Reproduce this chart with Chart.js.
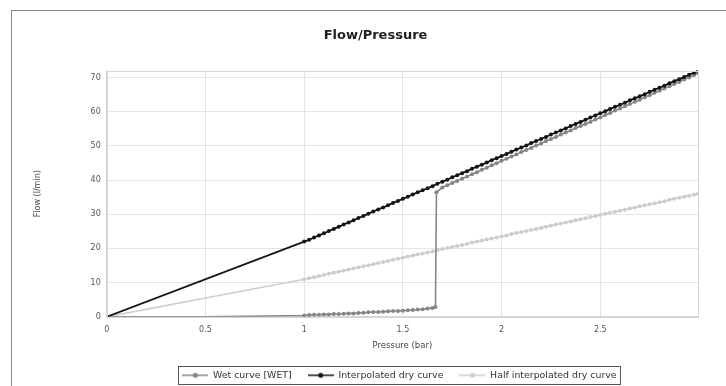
<!DOCTYPE html>
<html>
<head>
<meta charset="utf-8">
<script src="https://cdn.jsdelivr.net/npm/chart.js@4/dist/chart.umd.min.js"></script>
<style>
  html, body { margin: 0; padding: 0; background: #fff; }
  #wrap  { position: relative; width: 726px; height: 386px; overflow: hidden; }
  #frame { position: absolute; left: 11px; top: 10px; width: 800px; height: 500px;
           border: 1px solid #8c8c8c; }
  #c     { position: absolute; left: 0; top: 0; }
</style>
</head>
<body>
<div id="wrap">
  <div id="frame"></div>
  <canvas id="c" width="726" height="390"></canvas>
</div>
<script>
/* ================================================================
   Données
================================================================ */
const SERIES_LABELS = ['Wet curve [WET]', 'Interpolated dry curve', 'Half interpolated dry curve'];

const dryPressure = [0,
  1.000, 1.025, 1.050, 1.075, 1.100, 1.125, 1.150, 1.175, 1.200, 1.225,
  1.250, 1.275, 1.300, 1.325, 1.350, 1.375, 1.400, 1.425, 1.450, 1.475,
  1.500, 1.525, 1.550, 1.575, 1.600, 1.625, 1.650, 1.675, 1.700, 1.725,
  1.750, 1.775, 1.800, 1.825, 1.850, 1.875, 1.900, 1.925, 1.950, 1.975,
  2.000, 2.025, 2.050, 2.075, 2.100, 2.125, 2.150, 2.175, 2.200, 2.225,
  2.250, 2.275, 2.300, 2.325, 2.350, 2.375, 2.400, 2.425, 2.450, 2.475,
  2.500, 2.525, 2.550, 2.575, 2.600, 2.625, 2.650, 2.675, 2.700, 2.725,
  2.750, 2.775, 2.800, 2.825, 2.850, 2.875, 2.900, 2.925, 2.950, 2.975, 2.995];

const dryFlow = [0,
  22.0, 22.5, 23.2, 23.8, 24.4, 25.1, 25.7, 26.3, 27.0, 27.6,
  28.2, 28.9, 29.5, 30.1, 30.8, 31.4, 32.0, 32.6, 33.3, 33.9,
  34.5, 35.1, 35.8, 36.4, 37.0, 37.6, 38.2, 38.9, 39.5, 40.1,
  40.8, 41.4, 42.0, 42.6, 43.3, 43.9, 44.5, 45.1, 45.8, 46.4,
  47.0, 47.6, 48.3, 48.9, 49.5, 50.1, 50.8, 51.4, 52.0, 52.6,
  53.3, 53.9, 54.5, 55.1, 55.8, 56.4, 57.0, 57.6, 58.3, 58.9,
  59.5, 60.1, 60.8, 61.4, 62.0, 62.6, 63.3, 63.9, 64.5, 65.1,
  65.8, 66.4, 67.0, 67.6, 68.3, 68.9, 69.5, 70.1, 70.8, 71.4, 72.0];

const halfFlow = [0,
  11.0, 11.3, 11.6, 11.9, 12.2, 12.6, 12.9, 13.2, 13.5, 13.8,
  14.1, 14.5, 14.8, 15.1, 15.4, 15.7, 16.0, 16.3, 16.7, 17.0,
  17.3, 17.6, 17.9, 18.2, 18.5, 18.8, 19.1, 19.5, 19.8, 20.1,
  20.4, 20.7, 21.0, 21.3, 21.7, 22.0, 22.3, 22.6, 22.9, 23.2,
  23.5, 23.8, 24.2, 24.5, 24.8, 25.1, 25.4, 25.7, 26.0, 26.3,
  26.7, 27.0, 27.3, 27.6, 27.9, 28.2, 28.5, 28.8, 29.2, 29.5,
  29.8, 30.1, 30.4, 30.7, 31.0, 31.3, 31.7, 32.0, 32.3, 32.6,
  32.9, 33.2, 33.5, 33.8, 34.2, 34.5, 34.8, 35.1, 35.4, 35.7, 36.0];

const wetPressure = [0, 0.500,
  1.000, 1.025, 1.050, 1.075, 1.100, 1.125, 1.150, 1.175, 1.200, 1.225,
  1.250, 1.275, 1.300, 1.325, 1.350, 1.375, 1.400, 1.425, 1.450, 1.475,
  1.500, 1.525, 1.550, 1.575, 1.600, 1.625, 1.650, 1.665, 1.670, 1.700, 1.725,
  1.750, 1.775, 1.800, 1.825, 1.850, 1.875, 1.900, 1.925, 1.950, 1.975,
  2.000, 2.025, 2.050, 2.075, 2.100, 2.125, 2.150, 2.175, 2.200, 2.225,
  2.250, 2.275, 2.300, 2.325, 2.350, 2.375, 2.400, 2.425, 2.450, 2.475,
  2.500, 2.525, 2.550, 2.575, 2.600, 2.625, 2.650, 2.675, 2.700, 2.725,
  2.750, 2.775, 2.800, 2.825, 2.850, 2.875, 2.900, 2.925, 2.950, 2.975, 2.995];

const wetFlow = [0, 0,
  0.4, 0.5, 0.6, 0.6, 0.7, 0.7, 0.8, 0.8, 0.9, 1.0,
  1.0, 1.1, 1.2, 1.3, 1.4, 1.4, 1.5, 1.6, 1.7, 1.7,
  1.8, 1.9, 2.0, 2.1, 2.2, 2.4, 2.6, 2.9, 36.4, 37.8, 38.5,
  39.1, 39.7, 40.4, 41.0, 41.7, 42.3, 43.0, 43.6, 44.3, 44.9,
  45.6, 46.2, 46.9, 47.5, 48.2, 48.8, 49.4, 50.1, 50.7, 51.4,
  52.0, 52.6, 53.3, 53.9, 54.5, 55.2, 55.8, 56.4, 57.0, 57.7,
  58.3, 59.0, 59.6, 60.3, 60.9, 61.6, 62.2, 62.9, 63.5, 64.2,
  64.8, 65.5, 66.1, 66.8, 67.4, 68.1, 68.7, 69.4, 70.0, 70.7, 71.3];

const xTicks = [0, 0.5, 1, 1.5, 2, 2.5];
const yTicks = [0, 10, 20, 30, 40, 50, 60, 70];

/* ================================================================
   Constantes visuelles
================================================================ */
const COLORS = ['#858585', '#151515', '#cdcdcd'];
const FONT   = 'DejaVu Sans';
const LEGEND_SHIFT = 34;
const TITLE_SHIFT  = 10;

const pairs = (xs, ys) => xs.map((x, i) => ({ x, y: ys[i] }));

/* petite icône "ligne + point" pour la légende */
function legendIcon(color) {
  const c = document.createElement('canvas');
  c.width = 26; c.height = 8;
  const g = c.getContext('2d');
  g.strokeStyle = color; g.lineWidth = 1.5;
  g.beginPath(); g.moveTo(0, 4); g.lineTo(26, 4); g.stroke();
  g.fillStyle = color;
  g.beginPath(); g.arc(13, 4, 2.5, 0, Math.PI * 2); g.fill();
  return c;
}

/* légende et titre recentrés sur la zone de tracé (comme dans l'original) */
const recenter = {
  id: 'recenter',
  afterUpdate(chart) {
    const L = chart.legend;
    L.left += LEGEND_SHIFT;
    L.right += LEGEND_SHIFT;
    L.legendHitBoxes.forEach(b => { b.left += LEGEND_SHIFT; });
    const T = chart.titleBlock;
    if (T) { T.left += TITLE_SHIFT; T.right += TITLE_SHIFT; }
  },
};

/* cadre de la zone de tracé + cadre de la légende */
const framePlugin = {
  id: 'frames',
  afterDraw(chart) {
    const { ctx, chartArea: a, legend } = chart;
    ctx.save();
    ctx.strokeStyle = '#d6d6d6';
    ctx.lineWidth = 1;
    ctx.strokeRect(Math.round(a.left) + 0.5, Math.round(a.top) + 0.5,
                   Math.round(a.right - a.left), Math.round(a.bottom - a.top));
    const boxes = legend.legendHitBoxes;
    if (boxes.length) {
      const l = Math.min(...boxes.map(b => b.left)) - 4;
      const r = Math.max(...boxes.map(b => b.left + b.width)) + 4;
      const t = Math.min(...boxes.map(b => b.top)) - 5;
      const bt = Math.max(...boxes.map(b => b.top + b.height)) + 4;
      ctx.strokeStyle = '#555';
      ctx.strokeRect(Math.round(l) + 0.5, Math.round(t) + 0.5, Math.round(r - l), Math.round(bt - t));
    }
    ctx.restore();
  },
};

const defaultGen = Chart.defaults.plugins.legend.labels.generateLabels;
const hideAt = idx => ctx => (idx.includes(ctx.dataIndex) ? 0 : 2);

new Chart(document.getElementById('c'), {
  type: 'scatter',
  data: {
    datasets: [
      {
        label: SERIES_LABELS[0],
        data: pairs(wetPressure, wetFlow),
        showLine: true,
        borderColor: COLORS[0],
        backgroundColor: COLORS[0],
        borderWidth: 1.6,
        pointRadius: hideAt([1]),
        pointBorderWidth: 0,
        order: 1,
      },
      {
        label: SERIES_LABELS[1],
        data: pairs(dryPressure, dryFlow),
        showLine: true,
        borderColor: COLORS[1],
        backgroundColor: COLORS[1],
        borderWidth: 1.8,
        pointRadius: hideAt([0]),
        pointBorderWidth: 0,
        order: 0,
      },
      {
        label: SERIES_LABELS[2],
        data: pairs(dryPressure, halfFlow),
        showLine: true,
        borderColor: COLORS[2],
        backgroundColor: COLORS[2],
        borderWidth: 1.6,
        pointRadius: hideAt([0]),
        pointBorderWidth: 0,
        order: 2,
      },
    ],
  },
  options: {
    responsive: false,
    animation: false,
    layout: { padding: { left: 33, right: 28, top: 0, bottom: 0 } },
    plugins: {
      title: {
        display: true,
        text: 'Flow/Pressure',
        color: '#1e1e1e',
        font: { family: FONT, size: 13, weight: 'bold' },
        padding: { top: 28, bottom: 27 },
      },
      legend: {
        position: 'bottom',
        labels: {
          usePointStyle: true,
          pointStyleWidth: 26,
          color: '#333',
          font: { family: FONT, size: 9.4 },
          padding: 16,
          sort: (a, b) => a.datasetIndex - b.datasetIndex,
          generateLabels: chart => defaultGen(chart).map(l =>
            ({ ...l, pointStyle: legendIcon(COLORS[l.datasetIndex]) })),
        },
      },
      tooltip: { enabled: false },
    },
    scales: {
      x: {
        type: 'linear',
        min: 0,
        max: 2.995,
        afterBuildTicks: axis => { axis.ticks = xTicks.map(v => ({ value: v })); },
        ticks: { color: '#555', font: { family: FONT, size: 8 }, padding: 8,
                 callback: v => String(v) },
        grid: { color: '#e4e4e4', drawTicks: false },
        border: { color: '#d6d6d6' },
        title: {
          display: true, text: 'Pressure (bar)', color: '#444',
          font: { family: FONT, size: 8.5 }, padding: { top: -2, bottom: 4 },
        },
      },
      y: {
        min: 0,
        max: 72,
        afterBuildTicks: axis => { axis.ticks = yTicks.map(v => ({ value: v })); },
        ticks: { color: '#555', font: { family: FONT, size: 8 }, padding: 6 },
        grid: { color: '#e4e4e4', drawTicks: false },
        border: { color: '#d6d6d6' },
        title: {
          display: true, text: 'Flow (l/min)', color: '#444',
          font: { family: FONT, size: 8 }, padding: { top: 0, bottom: 42 },
        },
      },
    },
  },
  plugins: [recenter, framePlugin],
});
</script>
</body>
</html>
